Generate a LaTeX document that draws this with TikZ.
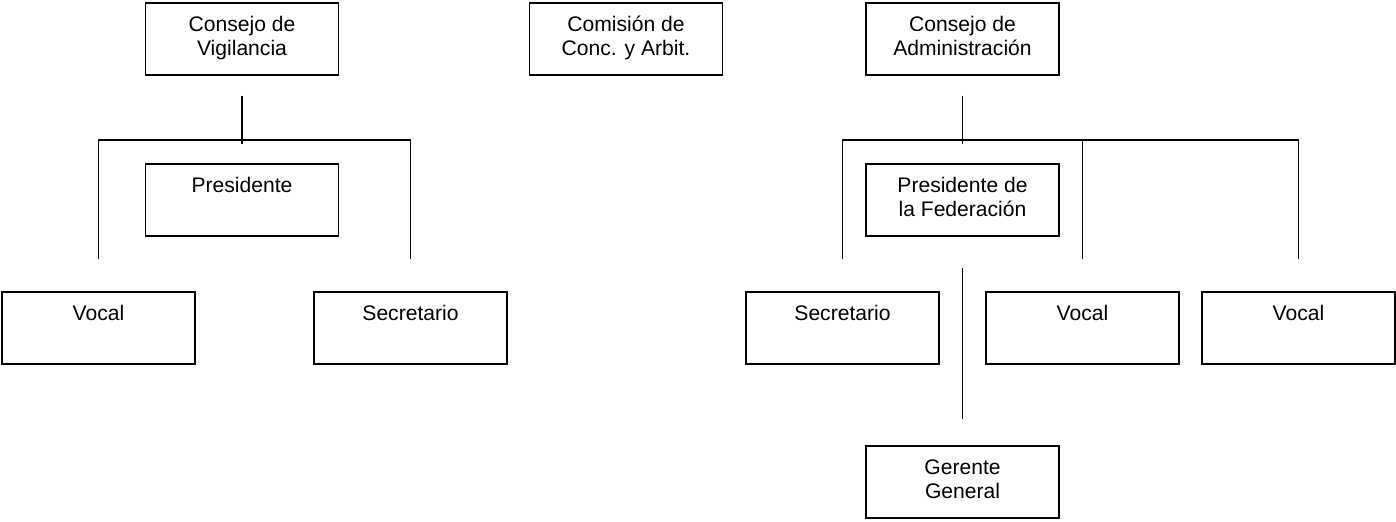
\documentclass[tikz,border=0pt]{standalone}
\usepackage{fontspec}
\setmainfont{Liberation Sans}
\tikzset{
  caja/.style={draw, line width=0.8pt, minimum width=3.86cm, minimum height=1.44cm,
    inner sep=0pt, align=center, font=\fontsize{12}{13.7}\selectfont},
  linea/.style={line width=0.8pt}
}
\begin{document}
\begin{tikzpicture}
    \useasboundingbox (0, 0) rectangle (27.92, -10.42);
    % Consejos en la fila superior
    \node[caja] (vig) at (4.84, -0.78) {\strut Consejo de\\\strut Vigilancia};
    \node[caja] (com) at (12.52, -0.78) {\strut Comisión de\\\strut Conc. y Arbit.};
    \node[caja] (adm) at (19.25, -0.78) {\strut Consejo de\\\strut Administración};
    
    % Rama de Vigilancia
    \node[caja] (presv) at (4.84, -4) {\strut Presidente\\\strut};
    \node[caja] (vocv) at (1.97, -6.56) {\strut Vocal\\\strut};
    \node[caja] (secv) at (8.21, -6.56) {\strut Secretario\\\strut};
    \coordinate (jv) at (4.84, -2.8);
    \draw[linea] ([yshift=-0.4cm]vig.south) -- ([yshift=-0.08cm]jv);
    \draw[linea] ([yshift=0.64cm]vocv.north) |- (jv) -| ([yshift=0.64cm]secv.north);
    
    % Rama de Administracion
    \node[caja] (presf) at (19.25, -4) {\strut Presidente de\\\strut la Federación};
    \node[caja] (seca) at (16.85, -6.56) {\strut Secretario\\\strut};
    \node[caja] (voca) at (21.65, -6.56) {\strut Vocal\\\strut};
    \node[caja] (vocb) at (25.97, -6.56) {\strut Vocal\\\strut};
    \node[caja] (ger) at (19.25, -9.64) {\strut Gerente\\\strut General};
    \coordinate (ja) at (19.25, -2.8);
    \draw[linea] ([yshift=-0.4cm]adm.south) -- ([yshift=-0.08cm]ja);
    \draw[linea] ([yshift=0.64cm]seca.north) |- (ja) -| ([yshift=0.64cm]vocb.north);
    \draw[linea] ([yshift=0.64cm]voca.north) -- (voca.north |- ja);
    
    % Gerente
    \draw[linea] ([yshift=-0.62cm]presf.south) -- ([yshift=0.52cm]ger.north);
\end{tikzpicture}
\end{document}
